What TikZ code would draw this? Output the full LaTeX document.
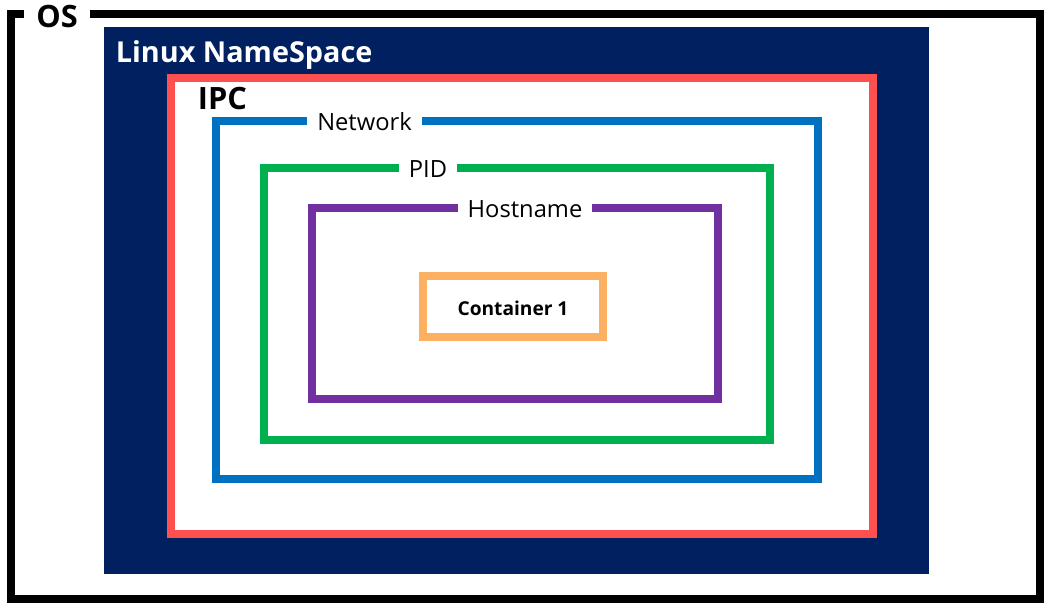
\documentclass[tikz,border=0pt]{standalone}
\usepackage{fontspec}
\setmainfont{Open Sans}
\usepackage{tikz}
\usetikzlibrary{positioning}
\definecolor{nsNavy}{RGB}{0, 32, 96}
\definecolor{ipcRed}{RGB}{255, 80, 80}
\definecolor{netBlue}{RGB}{0, 112, 192}
\definecolor{pidGreen}{RGB}{0, 176, 80}
\definecolor{hostPurple}{RGB}{112, 48, 160}
\definecolor{ctrOrange}{RGB}{252, 176, 98}

\begin{document}
\begin{tikzpicture}[
    x=0.02cm, y=-0.02cm,
    frame/.style={rectangle, line width=0.16cm, inner sep=0pt, outer sep=0pt},
    tag/.style={fill=white, inner xsep=0.2cm, inner ysep=1pt, font=\fontsize{13.5}{16}\selectfont},
    bigtag/.style={inner sep=2pt, anchor=west, font=\fontsize{17.5}{20}\selectfont\bfseries},
  ]
    \useasboundingbox (0,0) rectangle (1049,609);

    % nested namespace frames
    \node[frame, draw=black, minimum width=20.58cm, minimum height=11.7cm] (os) at (525.5,306.5) {};
    \node[frame, fill=nsNavy, minimum width=16.5cm, minimum height=10.94cm] (ns) at (516.5,300.5) {};
    \node[frame, draw=ipcRed, fill=white, minimum width=14.04cm, minimum height=9.12cm] (ipc) at (522,306) {};
    \node[frame, draw=netBlue, minimum width=12.04cm, minimum height=7.16cm] (net) at (517,300) {};
    \node[frame, draw=pidGreen, minimum width=10.12cm, minimum height=5.44cm] (pid) at (517,304) {};
    \node[frame, draw=hostPurple, minimum width=8.12cm, minimum height=3.82cm] (host) at (515,303.5) {};
    \node[frame, draw=ctrOrange, minimum width=3.6cm, minimum height=1.22cm] (ctr) at (513,306.5) {};
    \node[font=\fontsize{10.9}{12}\selectfont\bfseries] (ctrlabel) at (513,308) {Container 1};

    % labels
    \node[tag, font=\fontsize{17.5}{20}\selectfont\bfseries, inner xsep=0.24cm] (oslabel) at (57,16) {OS};
    \node[bigtag, text=white, font=\fontsize{16.4}{19}\selectfont\bfseries] (nslabel) at (112,55) {Linux NameSpace};
    \node[bigtag] (ipclabel) at (194,99) {IPC};
    \node[tag] (netlabel) at (364.5,122) {Network};
    \node[tag] (pidlabel) at (428,169) {PID};
    \node[tag] (hostlabel) at (525,209) {Hostname};
  \end{tikzpicture}
\end{document}
